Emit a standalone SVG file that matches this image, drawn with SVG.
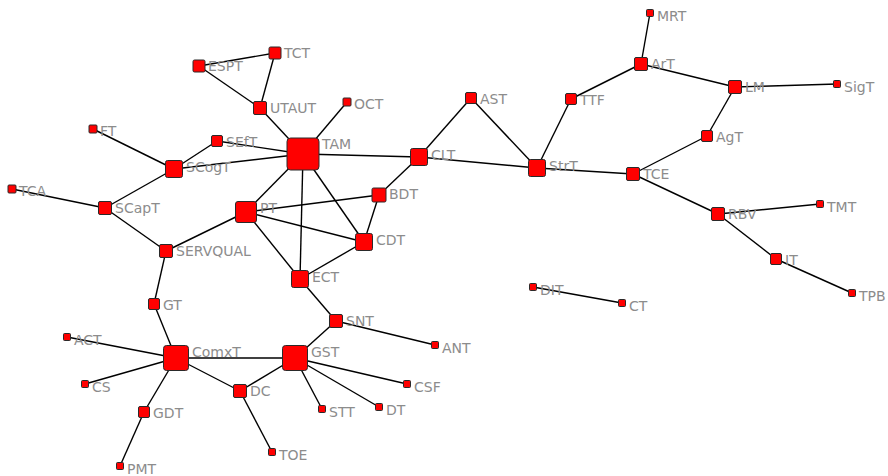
<svg xmlns="http://www.w3.org/2000/svg" width="888" height="476" viewBox="0 0 888 476">
<style>
.n rect{fill:#ff0000;stroke:#2a2a2a;stroke-width:1}
.n text{font-family:"DejaVu Sans",Verdana,sans-serif;font-size:14px;fill:#8c8c8c}
#edges line{stroke:#000;stroke-width:1.4}
</style>
<rect width="888" height="476" fill="#fff"/>
<g id="edges">
<line x1="199" y1="66" x2="275" y2="53"/>
<line x1="199" y1="66" x2="260" y2="108"/>
<line x1="275" y1="53" x2="260" y2="108"/>
<line x1="260" y1="108" x2="303" y2="154"/>
<line x1="347" y1="102" x2="303" y2="154"/>
<line x1="217" y1="141" x2="303" y2="154"/>
<line x1="217" y1="141" x2="174" y2="169"/>
<line x1="93" y1="129" x2="174" y2="169"/>
<line x1="174" y1="169" x2="303" y2="154"/>
<line x1="12" y1="189" x2="105" y2="208"/>
<line x1="105" y1="208" x2="174" y2="169"/>
<line x1="105" y1="208" x2="166" y2="251"/>
<line x1="303" y1="154" x2="419" y2="157"/>
<line x1="303" y1="154" x2="246" y2="212"/>
<line x1="303" y1="154" x2="300" y2="279"/>
<line x1="303" y1="154" x2="364" y2="242"/>
<line x1="246" y1="212" x2="379" y2="195"/>
<line x1="246" y1="212" x2="364" y2="242"/>
<line x1="246" y1="212" x2="300" y2="279"/>
<line x1="246" y1="212" x2="166" y2="251"/>
<line x1="379" y1="195" x2="419" y2="157"/>
<line x1="379" y1="195" x2="364" y2="242"/>
<line x1="364" y1="242" x2="300" y2="279"/>
<line x1="300" y1="279" x2="336" y2="321"/>
<line x1="336" y1="321" x2="295" y2="358"/>
<line x1="336" y1="321" x2="435" y2="345"/>
<line x1="166" y1="251" x2="154" y2="304"/>
<line x1="154" y1="304" x2="176" y2="358"/>
<line x1="176" y1="358" x2="67" y2="337"/>
<line x1="176" y1="358" x2="85" y2="384"/>
<line x1="176" y1="358" x2="144" y2="412"/>
<line x1="144" y1="412" x2="120" y2="466"/>
<line x1="176" y1="358" x2="295" y2="358"/>
<line x1="176" y1="358" x2="240" y2="391"/>
<line x1="240" y1="391" x2="295" y2="358"/>
<line x1="240" y1="391" x2="272" y2="452"/>
<line x1="295" y1="358" x2="407" y2="384"/>
<line x1="295" y1="358" x2="322" y2="409"/>
<line x1="295" y1="358" x2="379" y2="407"/>
<line x1="419" y1="157" x2="471" y2="98"/>
<line x1="419" y1="157" x2="537" y2="168"/>
<line x1="471" y1="98" x2="537" y2="168"/>
<line x1="537" y1="168" x2="571" y2="99"/>
<line x1="571" y1="99" x2="641" y2="64"/>
<line x1="641" y1="64" x2="650" y2="13"/>
<line x1="641" y1="64" x2="735" y2="87"/>
<line x1="735" y1="87" x2="837" y2="84"/>
<line x1="735" y1="87" x2="707" y2="136"/>
<line x1="707" y1="136" x2="633" y2="174"/>
<line x1="537" y1="168" x2="633" y2="174"/>
<line x1="633" y1="174" x2="718" y2="214"/>
<line x1="718" y1="214" x2="820" y2="204"/>
<line x1="718" y1="214" x2="776" y2="259"/>
<line x1="776" y1="259" x2="852" y2="293"/>
<line x1="533" y1="287" x2="622" y2="303"/>
</g>
<g id="TCT" class="n"><rect x="269" y="47" width="12" height="12" rx="1.5"/><text x="284" y="58">TCT</text></g>
<g id="ESPT" class="n"><rect x="193" y="60" width="12" height="12" rx="1.5"/><text x="208" y="71">ESPT</text></g>
<g id="UTAUT" class="n"><rect x="253.5" y="101.5" width="13" height="13" rx="1.5"/><text x="270" y="112.5">UTAUT</text></g>
<g id="OCT" class="n"><rect x="343" y="98" width="8" height="8" rx="1"/><text x="354" y="109">OCT</text></g>
<g id="TAM" class="n"><rect x="287" y="138" width="32" height="32" rx="3.5"/><text x="322" y="149">TAM</text></g>
<g id="SEfT" class="n"><rect x="211.5" y="135.5" width="11" height="11" rx="1.5"/><text x="226" y="146.5">SEfT</text></g>
<g id="FT" class="n"><rect x="89" y="125" width="8" height="8" rx="1"/><text x="100" y="136">FT</text></g>
<g id="SCogT" class="n"><rect x="165.5" y="160.5" width="17" height="17" rx="2"/><text x="186" y="171.5">SCogT</text></g>
<g id="TCA" class="n"><rect x="8" y="185" width="8" height="8" rx="1"/><text x="19" y="196">TCA</text></g>
<g id="SCapT" class="n"><rect x="98.5" y="201.5" width="13" height="13" rx="1.5"/><text x="115" y="212.5">SCapT</text></g>
<g id="PT" class="n"><rect x="235.5" y="201.5" width="21" height="21" rx="2.5"/><text x="260" y="212.5">PT</text></g>
<g id="BDT" class="n"><rect x="372" y="188" width="14" height="14" rx="1.5"/><text x="389" y="199">BDT</text></g>
<g id="CLT" class="n"><rect x="410.5" y="148.5" width="17" height="17" rx="2"/><text x="431" y="159.5">CLT</text></g>
<g id="CDT" class="n"><rect x="355.5" y="233.5" width="17" height="17" rx="2"/><text x="376" y="244.5">CDT</text></g>
<g id="MRT" class="n"><rect x="646.5" y="9.5" width="7" height="7" rx="1"/><text x="657" y="20.5">MRT</text></g>
<g id="ArT" class="n"><rect x="634.5" y="57.5" width="13" height="13" rx="1.5"/><text x="651" y="68.5">ArT</text></g>
<g id="LM" class="n"><rect x="728.5" y="80.5" width="13" height="13" rx="1.5"/><text x="745" y="91.5">LM</text></g>
<g id="SigT" class="n"><rect x="833.5" y="80.5" width="7" height="7" rx="1"/><text x="844" y="91.5">SigT</text></g>
<g id="AST" class="n"><rect x="465.5" y="92.5" width="11" height="11" rx="1.5"/><text x="480" y="103.5">AST</text></g>
<g id="TTF" class="n"><rect x="565.5" y="93.5" width="11" height="11" rx="1.5"/><text x="580" y="104.5">TTF</text></g>
<g id="AgT" class="n"><rect x="701.5" y="130.5" width="11" height="11" rx="1.5"/><text x="716" y="141.5">AgT</text></g>
<g id="StrT" class="n"><rect x="528.5" y="159.5" width="17" height="17" rx="2"/><text x="549" y="170.5">StrT</text></g>
<g id="TCE" class="n"><rect x="626.5" y="167.5" width="13" height="13" rx="1.5"/><text x="643" y="178.5">TCE</text></g>
<g id="RBV" class="n"><rect x="711.5" y="207.5" width="13" height="13" rx="1.5"/><text x="728" y="218.5">RBV</text></g>
<g id="TMT" class="n"><rect x="816.5" y="200.5" width="7" height="7" rx="1"/><text x="827" y="211.5">TMT</text></g>
<g id="IT" class="n"><rect x="770.5" y="253.5" width="11" height="11" rx="1.5"/><text x="785" y="264.5">IT</text></g>
<g id="TPB" class="n"><rect x="848.5" y="289.5" width="7" height="7" rx="1"/><text x="859" y="300.5">TPB</text></g>
<g id="DIT" class="n"><rect x="529.5" y="283.5" width="7" height="7" rx="1"/><text x="540" y="294.5">DIT</text></g>
<g id="CT" class="n"><rect x="618.5" y="299.5" width="7" height="7" rx="1"/><text x="629" y="310.5">CT</text></g>
<g id="ANT" class="n"><rect x="431.5" y="341.5" width="7" height="7" rx="1"/><text x="442" y="352.5">ANT</text></g>
<g id="SERVQUAL" class="n"><rect x="159.5" y="244.5" width="13" height="13" rx="1.5"/><text x="176" y="255.5">SERVQUAL</text></g>
<g id="ECT" class="n"><rect x="291.5" y="270.5" width="17" height="17" rx="2"/><text x="312" y="281.5">ECT</text></g>
<g id="GT" class="n"><rect x="148.5" y="298.5" width="11" height="11" rx="1.5"/><text x="163" y="309.5">GT</text></g>
<g id="SNT" class="n"><rect x="329.5" y="314.5" width="13" height="13" rx="1.5"/><text x="346" y="325.5">SNT</text></g>
<g id="ComxT" class="n"><rect x="163.5" y="345.5" width="25" height="25" rx="3"/><text x="192" y="356.5">ComxT</text></g>
<g id="GST" class="n"><rect x="282.5" y="345.5" width="25" height="25" rx="3"/><text x="311" y="356.5">GST</text></g>
<g id="ACT" class="n"><rect x="63.5" y="333.5" width="7" height="7" rx="1"/><text x="74" y="344.5">ACT</text></g>
<g id="CS" class="n"><rect x="81.5" y="380.5" width="7" height="7" rx="1"/><text x="92" y="391.5">CS</text></g>
<g id="DC" class="n"><rect x="233.5" y="384.5" width="13" height="13" rx="1.5"/><text x="250" y="395.5">DC</text></g>
<g id="CSF" class="n"><rect x="403.5" y="380.5" width="7" height="7" rx="1"/><text x="414" y="391.5">CSF</text></g>
<g id="GDT" class="n"><rect x="138.5" y="406.5" width="11" height="11" rx="1.5"/><text x="153" y="417.5">GDT</text></g>
<g id="STT" class="n"><rect x="318.5" y="405.5" width="7" height="7" rx="1"/><text x="329" y="416.5">STT</text></g>
<g id="DT" class="n"><rect x="375.5" y="403.5" width="7" height="7" rx="1"/><text x="386" y="414.5">DT</text></g>
<g id="TOE" class="n"><rect x="268.5" y="448.5" width="7" height="7" rx="1"/><text x="279" y="459.5">TOE</text></g>
<g id="PMT" class="n"><rect x="116.5" y="462.5" width="7" height="7" rx="1"/><text x="127" y="473.5">PMT</text></g>
</svg>
